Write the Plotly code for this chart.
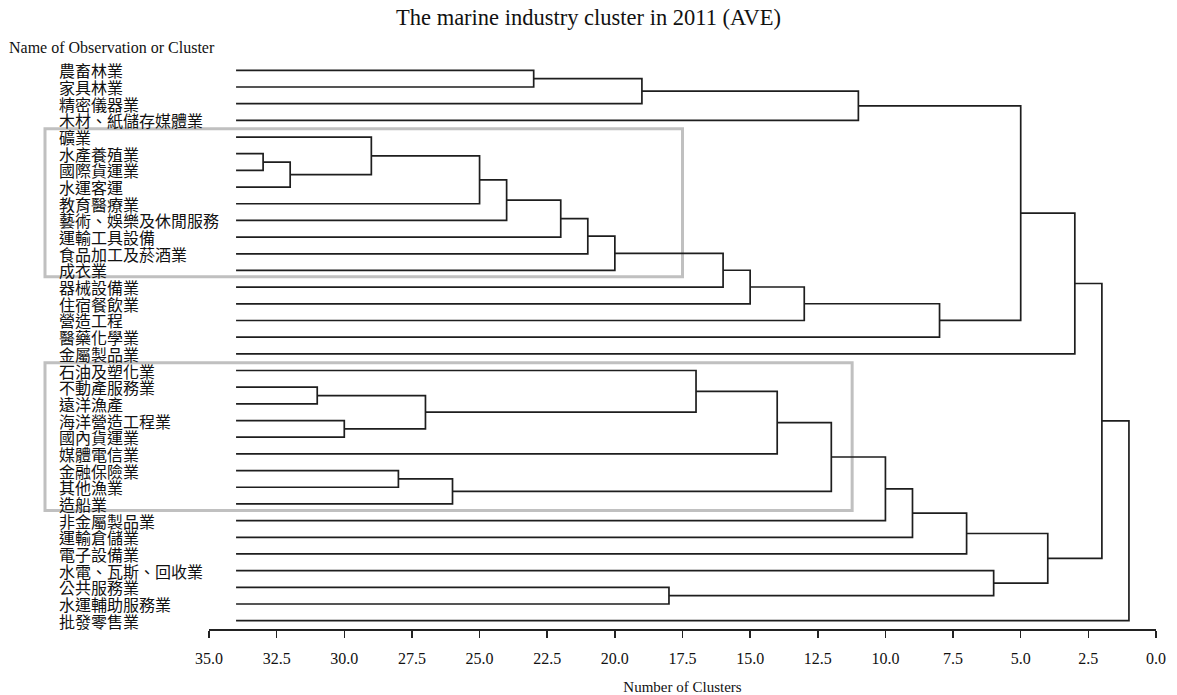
import plotly.graph_objects as go

# ---------------- data ----------------
leaf_labels = [
    "農畜林業", "家具林業", "精密儀器業", "木材、紙儲存媒體業", "礦業",
    "水產養殖業", "國際貨運業", "水運客運", "教育醫療業", "藝術、娛樂及休閒服務",
    "運輸工具設備", "食品加工及菸酒業", "成衣業", "器械設備業", "住宿餐飲業",
    "營造工程", "醫藥化學業", "金屬製品業", "石油及塑化業", "不動產服務業",
    "遠洋漁產", "海洋營造工程業", "國內貨運業", "媒體電信業", "金融保險業",
    "其他漁業", "造船業", "非金屬製品業", "運輸倉儲業", "電子設備業",
    "水電、瓦斯、回收業", "公共服務業", "水運輔助服務業", "批發零售業",
]
n_leaves = len(leaf_labels)  # 34 -> leaves sit at "34 clusters"

# merges in order; new cluster ids start at n_leaves
merge_left = [5, 34, 19, 21, 4, 24, 36, 39, 38, 42, 0, 43, 45, 46, 44, 31, 18,
              47, 51, 50, 52, 53, 48, 55, 57, 54, 58, 30, 56, 60, 62, 64, 65]
merge_right = [6, 7, 20, 22, 35, 25, 37, 26, 8, 9, 1, 10, 11, 12, 2, 32, 40,
               13, 14, 23, 15, 41, 3, 27, 28, 16, 29, 49, 59, 61, 17, 63, 33]
merge_height = [33, 32, 31, 30, 29, 28, 27, 26, 25, 24, 23, 22, 21, 20, 19, 18, 17,
                16, 15, 14, 13, 12, 11, 10, 9, 8, 7, 6, 5, 4, 3, 2, 1]

x_tick_values = [0, 2.5, 5, 7.5, 10, 12.5, 15, 17.5, 20, 22.5, 25, 27.5, 30, 32.5, 35]

# ---------------- build dendrogram segments ----------------
node_x = {i: float(n_leaves) for i in range(n_leaves)}
node_y = {i: float(i) for i in range(n_leaves)}
xs, ys = [], []
for k, (a, b, h) in enumerate(zip(merge_left, merge_right, merge_height)):
    nid = n_leaves + k
    ya, yb = node_y[a], node_y[b]
    xs += [node_x[a], h, h, node_x[b], None]
    ys += [ya, ya, yb, yb, None]
    node_x[nid] = h
    node_y[nid] = (ya + yb) / 2.0

fig = go.Figure()
fig.add_trace(go.Scatter(
    x=xs, y=ys, mode="lines",
    line=dict(color="#1e1e1e", width=1.7),
    hoverinfo="skip", showlegend=False, cliponaxis=False,
))

# ---------------- layout helpers ----------------
X_MAX = 35.0
Y_MIN, Y_MAX = -0.5, n_leaves - 0.5
W, H = 1177, 695
ML, MR, MT, MB = 209, 21, 62, 66
PW = W - ML - MR
PH = H - MT - MB


def paper_x_from_data(v):
    return (X_MAX - v) / X_MAX


def paper_x_from_px(px):
    return (px - ML) / PW


def paper_y_from_px(py):
    return (H - MB - py) / PH


def paper_y_from_data(v):
    return 1 - (v - Y_MIN) / (Y_MAX - Y_MIN)


serif = "Liberation Serif, Times New Roman, serif"
cjk = "Noto Sans CJK TC, Noto Sans CJK SC, sans-serif"

annotations = []
for i, lab in enumerate(leaf_labels):
    annotations.append(dict(
        x=paper_x_from_px(57), xref="paper", y=i, yref="y",
        text=lab, showarrow=False, xanchor="left", yanchor="middle",
        font=dict(family=cjk, size=16, color="#111111"),
    ))
annotations.append(dict(
    x=paper_x_from_px(7), xref="paper", y=paper_y_from_px(48), yref="paper",
    text="Name of Observation or Cluster", showarrow=False,
    xanchor="left", yanchor="middle",
    font=dict(family=serif, size=16, color="#111111"),
))

box_color = "#c0c0c0"
shapes = [
    dict(type="rect", xref="paper", yref="paper",
         x0=paper_x_from_px(45), x1=paper_x_from_data(17.5),
         y0=paper_y_from_data(3.5), y1=paper_y_from_data(12.37),
         line=dict(color=box_color, width=3), layer="below"),
    dict(type="rect", xref="paper", yref="paper",
         x0=paper_x_from_px(45), x1=paper_x_from_data(11.23),
         y0=paper_y_from_data(17.53), y1=paper_y_from_data(26.4),
         line=dict(color=box_color, width=3), layer="below"),
]

fig.update_layout(
    width=W, height=H,
    margin=dict(l=ML, r=MR, t=MT, b=MB, autoexpand=False),
    paper_bgcolor="white", plot_bgcolor="white",
    title=dict(
        text="The marine industry cluster in 2011 (AVE)",
        x=0.5, xref="container", xanchor="center",
        y=1 - 17 / H, yref="container", yanchor="middle",
        font=dict(family=serif, size=22.5, color="#111111"),
    ),
    xaxis=dict(
        range=[X_MAX, 0], autorange=False, automargin=False,
        tickvals=x_tick_values,
        ticktext=[f"{v:.1f}" for v in x_tick_values],
        ticks="outside", ticklen=7, tickwidth=1.5, tickcolor="#222222",
        showline=True, linecolor="#222222", linewidth=1.5,
        showgrid=False, zeroline=False,
        tickfont=dict(family=serif, size=16, color="#111111"),
        ticklabelstandoff=7,
        title=dict(text="Number of Clusters", standoff=21,
                   font=dict(family=serif, size=15, color="#111111")),
    ),
    yaxis=dict(
        range=[Y_MAX, Y_MIN], autorange=False, automargin=False,
        visible=False, showgrid=False, zeroline=False,
    ),
    annotations=annotations,
    shapes=shapes,
)

# remove the default 8px page margin so the figure fills the window exactly
fig.write_html(
    "out.html",
    config={"displayModeBar": False, "staticPlot": True},
    post_script="document.body.style.margin='0px';",
)
